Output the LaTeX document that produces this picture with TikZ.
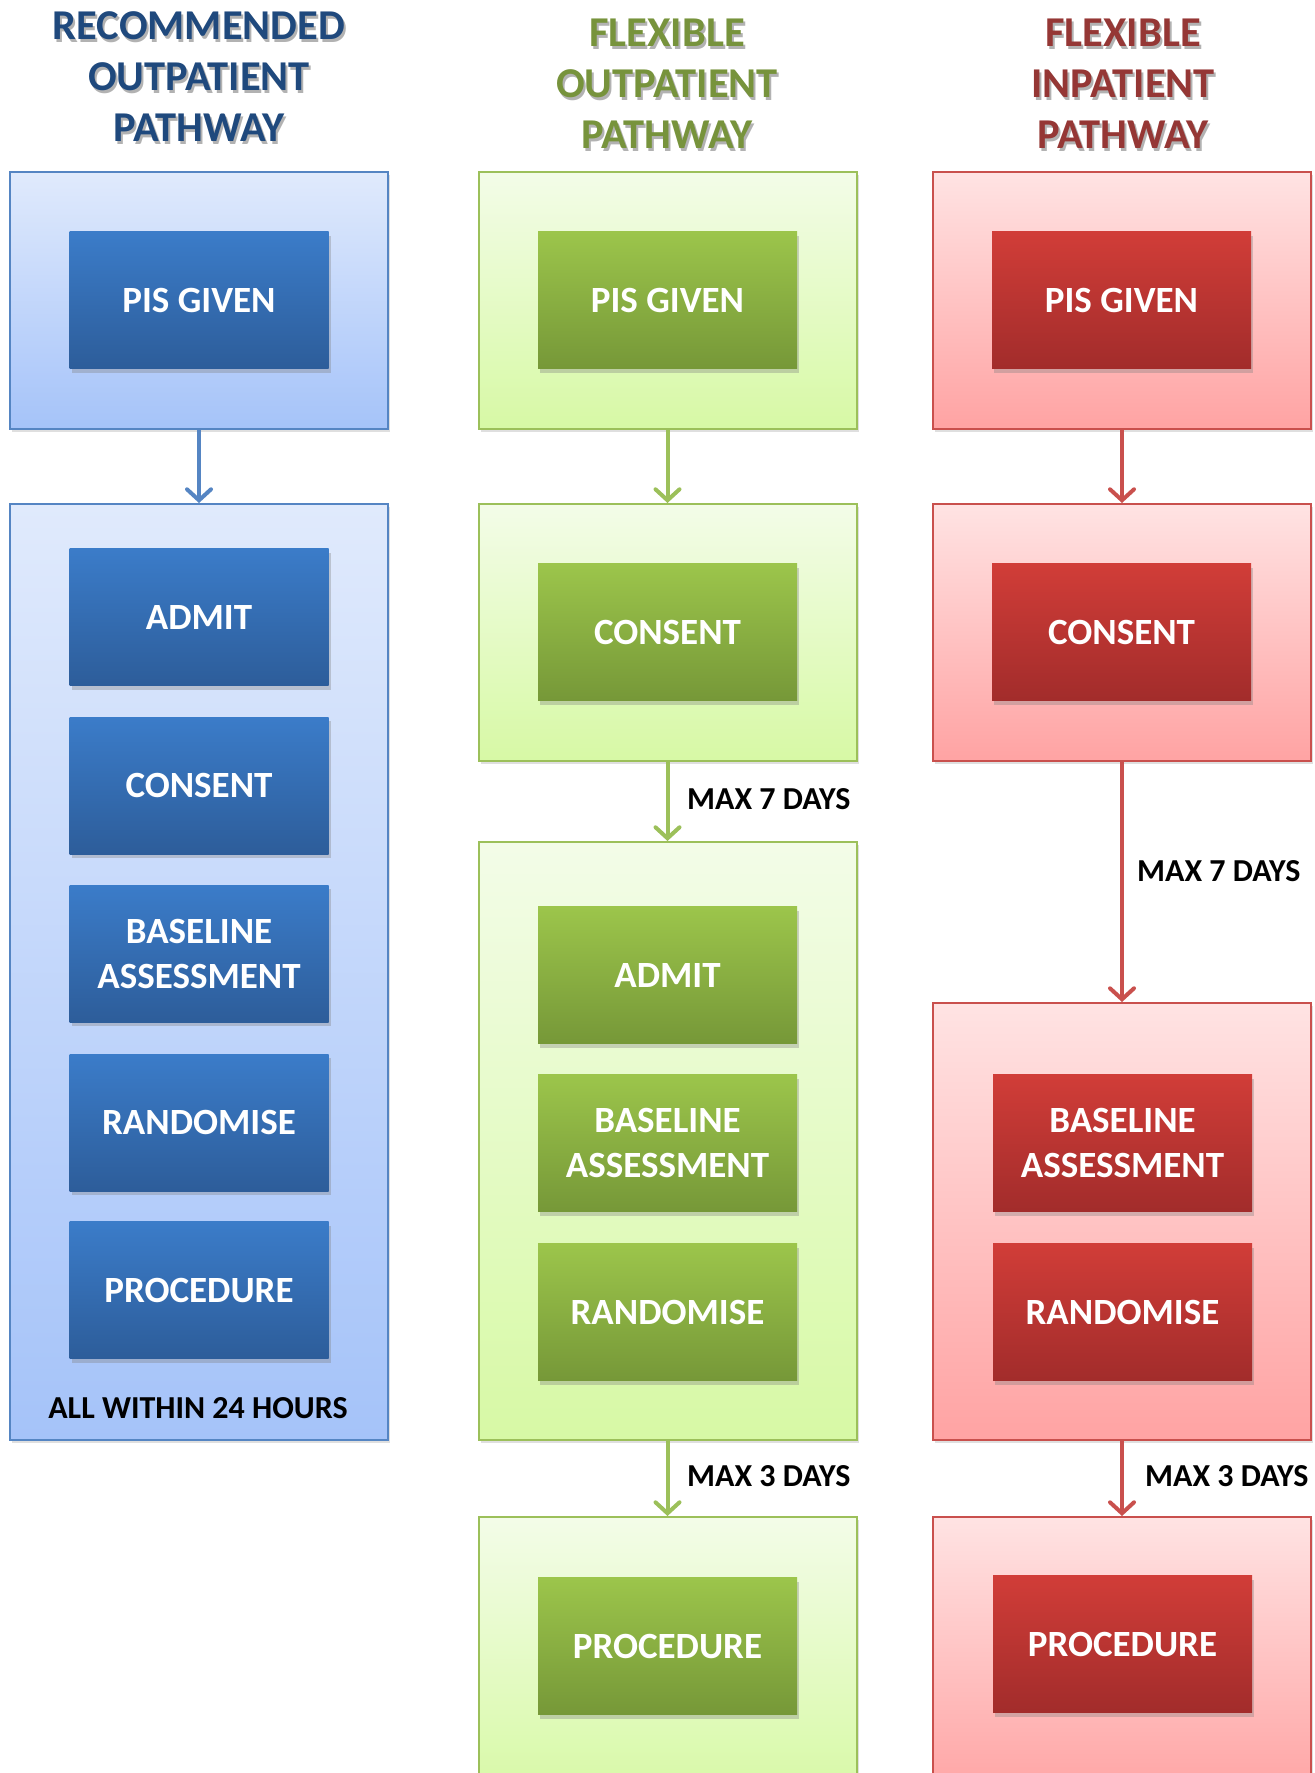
\documentclass[tikz,border=0pt]{standalone}
\usepackage{fontspec}
\setmainfont{Carlito}
\usetikzlibrary{arrows.meta,shadows}
\definecolor{bBord}{HTML}{5585C3}
\definecolor{bTop}{HTML}{E0EAFC}
\definecolor{bBot}{HTML}{A5C3F9}
\definecolor{bInTop}{HTML}{3B7CC9}
\definecolor{bInBot}{HTML}{2D5D9A}
\definecolor{bTitle}{HTML}{1F497D}
\definecolor{gBord}{HTML}{9CC05A}
\definecolor{gTop}{HTML}{F3FCE8}
\definecolor{gBot}{HTML}{D7F9A5}
\definecolor{gInTop}{HTML}{9CC54B}
\definecolor{gInBot}{HTML}{769838}
\definecolor{gTitle}{HTML}{77933C}
\definecolor{rBord}{HTML}{C9504D}
\definecolor{rTop}{HTML}{FFE3E3}
\definecolor{rBot}{HTML}{FFA3A3}
\definecolor{rInTop}{HTML}{D13D38}
\definecolor{rInBot}{HTML}{A22C2B}
\definecolor{rTitle}{HTML}{953735}
\tikzset{
  outerbox/.style={rectangle, line width=2pt, minimum width=378pt, inner sep=0pt,
     drop shadow={shadow xshift=2pt, shadow yshift=-3pt, opacity=0.25}},
  obB/.style={outerbox, draw=bBord, top color=bTop, bottom color=bBot},
  obG/.style={outerbox, draw=gBord, top color=gTop, bottom color=gBot},
  obR/.style={outerbox, draw=rBord, top color=rTop, bottom color=rBot},
  innerbox/.style={rectangle, minimum width=259pt, minimum height=137pt, inner sep=0pt,
     text=white, align=center, font=\fontsize{37}{45}\selectfont\bfseries,
     drop shadow={shadow xshift=2pt, shadow yshift=-4pt, opacity=0.35}},
  ibB/.style={innerbox, top color=bInTop, bottom color=bInBot},
  ibG/.style={innerbox, top color=gInTop, bottom color=gInBot},
  ibR/.style={innerbox, top color=rInTop, bottom color=rInBot},
  titletext/.style={align=center, font=\fontsize{42.5}{51}\selectfont\bfseries},
  shadowtext/.style={titletext, text=black, opacity=0.3},
  lbl/.style={font=\fontsize{32}{36}\selectfont\bfseries, text=black, inner sep=0pt},
  flow/.style={line width=4pt, -{Straight Barb[length=11pt,width=24pt,line cap=round]}}
}
\begin{document}
\begin{tikzpicture}[x=1pt,y=-1pt]
\useasboundingbox (0,0) rectangle (1315,1773);
\clip (0,0) rectangle (1315,1773);
% titles
\node[shadowtext] at (201,80) {RECOMMENDED\\OUTPATIENT\\PATHWAY};
\node[titletext, text=bTitle] (t1) at (199,77) {RECOMMENDED\\OUTPATIENT\\PATHWAY};
\node[shadowtext] at (669,87) {FLEXIBLE\\OUTPATIENT\\PATHWAY};
\node[titletext, text=gTitle] (t2) at (667,84) {FLEXIBLE\\OUTPATIENT\\PATHWAY};
\node[shadowtext] at (1125,87) {FLEXIBLE\\INPATIENT\\PATHWAY};
\node[titletext, text=rTitle] (t3) at (1123,84) {FLEXIBLE\\INPATIENT\\PATHWAY};

% column 1
\node[obB, minimum height=257pt] (b1a) at (199,300.5) {};
\node[obB, minimum height=936pt] (b1b) at (199,972) {};
\node[ibB] (p1) at (199,300) {PIS GIVEN};
\node[ibB] (a1) at (199,617) {ADMIT};
\node[ibB] (c1) at (199,785.5) {CONSENT};
\node[ibB] (ba1) at (199,953.5) {BASELINE\\ASSESSMENT};
\node[ibB] (r1) at (199,1122.5) {RANDOMISE};
\node[ibB] (pr1) at (199,1290) {PROCEDURE};
\node[lbl] (all) at (198,1408) {ALL WITHIN 24 HOURS};
\draw[flow, bBord] (b1a.south) -- (b1b.north);

% column 2
\node[obG, minimum height=257pt] (b2a) at (667.5,300.5) {};
\node[obG, minimum height=257pt] (b2b) at (667.5,632.5) {};
\node[obG, minimum height=598pt] (b2c) at (667.5,1141) {};
\node[obG, minimum height=283pt] (b2d) at (667.5,1658.5) {};
\node[ibG] (p2) at (667.5,300) {PIS GIVEN};
\node[ibG] (c2) at (667.5,632) {CONSENT};
\node[ibG] (a2) at (667.5,975) {ADMIT};
\node[ibG] (ba2) at (667.5,1143) {BASELINE\\ASSESSMENT};
\node[ibG] (r2) at (667.5,1312) {RANDOMISE};
\node[ibG] (pr2) at (667.5,1646) {PROCEDURE};
\draw[flow, gBord] (b2a.south) -- (b2b.north);
\draw[flow, gBord] (b2b.south) -- (b2c.north);
\draw[flow, gBord] (b2c.south) -- (b2d.north);
\node[lbl, anchor=west] (l27) at (687,799) {MAX 7 DAYS};
\node[lbl, anchor=west] (l23) at (687,1476) {MAX 3 DAYS};

% column 3
\node[obR, minimum height=257pt] (b3a) at (1122,300.5) {};
\node[obR, minimum height=257pt] (b3b) at (1122,632.5) {};
\node[obR, minimum height=437pt] (b3c) at (1122,1221.5) {};
\node[obR, minimum height=283pt] (b3d) at (1122,1658.5) {};
\node[ibR] (p3) at (1121.5,300) {PIS GIVEN};
\node[ibR] (c3) at (1121.5,632) {CONSENT};
\node[ibR] (ba3) at (1122.5,1143) {BASELINE\\ASSESSMENT};
\node[ibR] (r3) at (1122.5,1312) {RANDOMISE};
\node[ibR] (pr3) at (1122.5,1644) {PROCEDURE};
\draw[flow, rBord] (b3a.south) -- (b3b.north);
\draw[flow, rBord] (b3b.south) -- (b3c.north);
\draw[flow, rBord] (b3c.south) -- (b3d.north);
\node[lbl, anchor=west] (l37) at (1137,871) {MAX 7 DAYS};
\node[lbl, anchor=west] (l33) at (1145,1476) {MAX 3 DAYS};
\end{tikzpicture}
\end{document}
